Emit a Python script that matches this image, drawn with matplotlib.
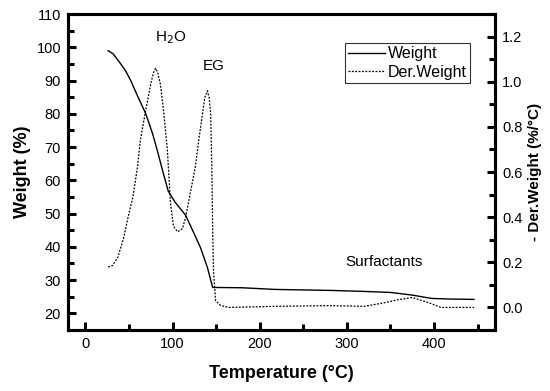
import matplotlib.pyplot as plt
from matplotlib.ticker import MultipleLocator

plt.rcParams['font.family'] = ['Liberation Sans', 'DejaVu Sans']

# Weight curve (left axis)
temp_w = [26, 32, 40, 46, 52, 61, 69, 77, 83, 89, 95, 103, 115, 124,
          132, 140, 146, 180, 218, 282, 320, 350, 375, 397, 420, 446]
weight = [99, 98, 95.2, 93, 90, 84.7, 80.2, 74.1, 68.5, 62.5, 56.8, 53.4,
          49.5, 44.4, 39.8, 33.8, 27.8, 27.7, 27.2, 26.9, 26.6, 26.3, 25.5,
          24.5, 24.3, 24.2]

# Derivative weight curve (right axis)
temp_d = [26, 31, 37, 44, 49, 55, 60, 63, 69, 75, 78, 80.5, 83, 86, 90, 94,
          97.7, 101, 105.7, 111.5, 115, 118.5, 123, 126, 130, 134.5, 137, 140,
          142, 143.7, 145, 146, 147, 149.4, 155, 164, 220, 280, 320, 342, 360,
          375, 396, 408, 446]
der_w = [0.18, 0.185, 0.22, 0.31, 0.40, 0.50, 0.63, 0.74, 0.87, 0.99, 1.04,
         1.06, 1.04, 0.99, 0.86, 0.70, 0.46, 0.36, 0.335, 0.35, 0.40, 0.47,
         0.56, 0.62, 0.74, 0.86, 0.93, 0.96, 0.93, 0.86, 0.63, 0.35, 0.16,
         0.03, 0.009, 0.0, 0.005, 0.008, 0.005, 0.02, 0.035, 0.044, 0.018,
         0.0, 0.0]

fig = plt.figure(figsize=(5.5, 3.91), dpi=100)
ax = fig.add_axes([0.1236, 0.156, 0.7764, 0.808])
ax2 = ax.twinx()

l1, = ax.plot(temp_w, weight, color='black', linewidth=1.0, label='Weight')
l2, = ax2.plot(temp_d, der_w, color='black', linewidth=0.9,
               linestyle=(0, (1.5, 1.2)), label='Der.Weight')

ax.set_xlim(-20, 470)
ax.set_ylim(15, 110)
ax2.set_ylim(-0.1, 1.3)

ax.xaxis.set_major_locator(MultipleLocator(100))
ax.xaxis.set_minor_locator(MultipleLocator(50))
ax.yaxis.set_major_locator(MultipleLocator(10))
ax.yaxis.set_minor_locator(MultipleLocator(5))
ax2.yaxis.set_major_locator(MultipleLocator(0.2))
ax2.yaxis.set_minor_locator(MultipleLocator(0.1))
ax2.yaxis.set_major_formatter(plt.FormatStrFormatter('%.1f'))

for a in (ax, ax2):
    a.tick_params(which='major', direction='in', length=6, width=2.2,
                  labelsize=10.5, pad=5)
    a.tick_params(which='minor', direction='in', length=4, width=2.2)
    for s in a.spines.values():
        s.set_linewidth(2.2)
ax.tick_params(top=False, right=False, which='both')

ax.set_xlabel('Temperature (°C)', fontsize=13, fontweight='bold', labelpad=10)
ax.set_ylabel('Weight (%)', fontsize=13, fontweight='bold', labelpad=4)
ax2.set_ylabel('- Der.Weight (%/°C)', fontsize=11, fontweight='bold',
               labelpad=4)

ax.text(80, 103, 'H$_2$O', fontsize=11, ha='left', va='center')
ax.text(147, 94.5, 'EG', fontsize=11, ha='center', va='center')
ax.text(343, 35.5, 'Surfactants', fontsize=11, ha='center', va='center')

leg = ax2.legend(handles=[l1, l2], loc='upper left',
                 bbox_to_anchor=(0.649, 0.908), borderaxespad=0,
                 fontsize=11.5, frameon=True, fancybox=False,
                 edgecolor='black', handlelength=2.3, handletextpad=0.2,
                 borderpad=0.2, labelspacing=0.2)
leg.get_frame().set_linewidth(0.8)

fig.savefig('out.png', dpi=100)
